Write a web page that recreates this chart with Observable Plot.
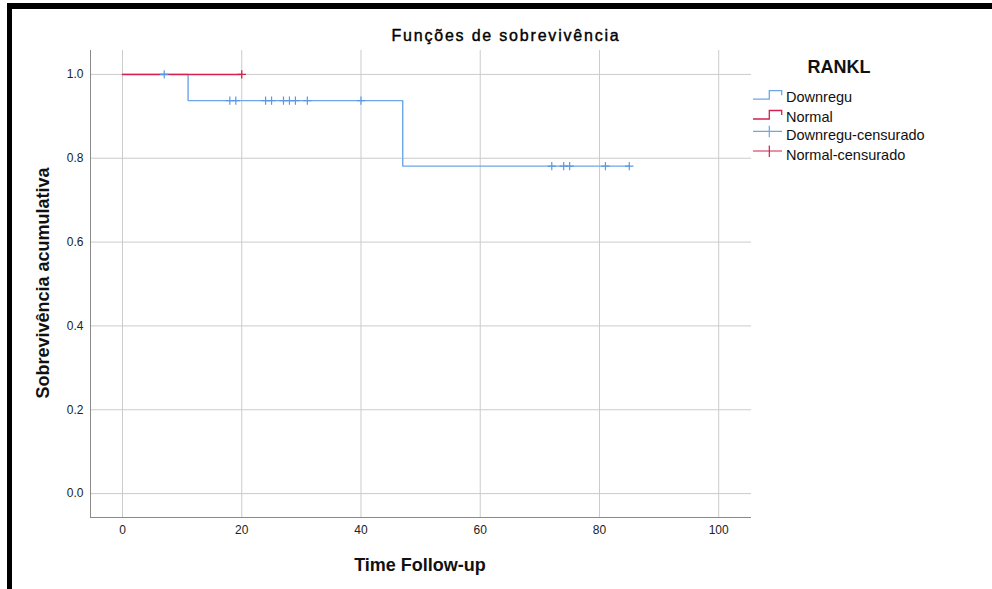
<!DOCTYPE html>
<html>
<head>
<meta charset="utf-8">
<script src="https://cdn.jsdelivr.net/npm/d3@7"></script>
<script src="https://cdn.jsdelivr.net/npm/@observablehq/plot@0.6"></script>
<style>
  html, body { margin: 0; padding: 0; background: #fff; }
  #wrap { position: relative; width: 992px; height: 589px; overflow: hidden; font-family: "Liberation Sans", Arial, sans-serif; color: #111; }
  #chart { position: absolute; left: 0; top: 0; }
  .bl { position: absolute; background: #000; }
  .txt { position: absolute; white-space: nowrap; }
</style>
</head>
<body>
<div id="wrap">
  <div id="chart"></div>
  <div class="bl" style="left:7px; top:3px; width:985px; height:6px;"></div>
  <div class="bl" style="left:7px; top:3px; width:5px; height:586px;"></div>
  <div class="txt" id="title" style="left:506px; top:36px; transform:translate(-50%,-50%); font-size:16px; letter-spacing:1.8px; -webkit-text-stroke:0.4px #000; color:#000;">Funções de sobrevivência</div>
  <div class="txt" id="xtitle" style="left:420px; top:565px; transform:translate(-50%,-50%); font-size:18px; font-weight:bold;">Time Follow-up</div>
  <div class="txt" id="ytitle" style="left:43px; top:283px; transform:translate(-50%,-50%) rotate(-90deg); font-size:18px; font-weight:bold;">Sobrevivência acumulativa</div>
  <div id="legend" style="position:absolute; left:740px; top:50px;"></div>
</div>
<script>
// ---- data ----
const groups = ["Downregu", "Normal"];
const legendLabels = ["Downregu", "Normal", "Downregu-censurado", "Normal-censurado"];
const colors = ["#6ea6e8", "#d42150"];

const downTime = [0, 11, 47, 85];
const downSurv = [1, 0.9375, 0.78125, 0.78125];
const normalTime = [0, 20];
const normalSurv = [1, 1];

const downCensorTime = [7, 18, 19, 24, 25, 27, 28, 29, 31, 40, 72, 74, 75, 81, 85];
const downCensorSurv = [1, 0.9375, 0.9375, 0.9375, 0.9375, 0.9375, 0.9375, 0.9375, 0.9375, 0.9375, 0.78125, 0.78125, 0.78125, 0.78125, 0.78125];
const normalCensorTime = [20];
const normalCensorSurv = [1];

const xTicks = [0, 20, 40, 60, 80, 100];
const yTicks = [0, 0.2, 0.4, 0.6, 0.8, 1.0];
const xDomain = [-5.37, 105.5];
const yDomain = [-0.057, 1.057];

// ---- tables ----
const downLine = downTime.map((t, i) => ({t, s: downSurv[i]}));
const normLine = normalTime.map((t, i) => ({t, s: normalSurv[i]}));
const downCens = downCensorTime.map((t, i) => ({t, s: downCensorSurv[i]}));
const normCens = normalCensorTime.map((t, i) => ({t, s: normalCensorSurv[i]}));

const chart = Plot.plot({
  width: 992,
  height: 589,
  marginLeft: 90,
  marginRight: 241,
  marginTop: 50,
  marginBottom: 72,
  style: { fontFamily: "'Liberation Sans', Arial, sans-serif", fontSize: "12px", color: "#222", background: "transparent" },
  x: { domain: xDomain, ticks: xTicks },
  y: { domain: yDomain, ticks: yTicks },
  marks: [
    Plot.gridX(xTicks, { stroke: "#cbcbcb", strokeOpacity: 1 }),
    Plot.gridY(yTicks, { stroke: "#cbcbcb", strokeOpacity: 1 }),
    Plot.ruleX([xDomain[0]], { stroke: "#8a8a8a" }),
    Plot.ruleY([yDomain[0]], { stroke: "#8a8a8a" }),
    Plot.line(downLine, { x: "t", y: "s", curve: "step-after", stroke: colors[0], strokeWidth: 1.4 }),
    Plot.line(normLine, { x: "t", y: "s", curve: "step-after", stroke: colors[1], strokeWidth: 1.5 }),
    Plot.dot(downCens, { x: "t", y: "s", symbol: "plus", r: 2.8, stroke: "#5b98e6", strokeWidth: 1.2 }),
    Plot.dot(normCens, { x: "t", y: "s", symbol: "plus", r: 2.8, stroke: colors[1], strokeWidth: 1.3 }),
    Plot.axisX(xTicks, { tickSize: 0, tickPadding: 8, label: null, tickFormat: d3.format("d"), fill: "#222" }),
    Plot.axisY(yTicks, { tickSize: 0, tickPadding: 7, label: null, tickFormat: d3.format(".1f"), fill: "#222" })
  ]
});
document.getElementById("chart").appendChild(chart);

// ---- legend ----
const lg = d3.select("#legend").append("svg").attr("width", 252).attr("height", 130)
  .style("font-family", "'Liberation Sans', Arial, sans-serif");
lg.append("text").attr("x", 99).attr("y", 17).attr("text-anchor", "middle").attr("dominant-baseline", "central")
  .style("font-size", "18px").style("font-weight", "bold").attr("fill", "#111").text("RANKL");
const rowsY = [46.7, 66.5, 85.3, 105];
legendLabels.forEach((lab, i) => {
  const c = colors[i % 2];
  const y = rowsY[i];
  const g = lg.append("g");
  if (i < 2) {
    const lo = y + 2.5, hi = y - 6;
    g.append("path").attr("d", `M13,${lo}H29.3V${hi}H41.7V${hi + 4.5}`).attr("fill", "none").attr("stroke", c).attr("stroke-width", 1.3);
  } else {
    g.append("path").attr("d", `M13,${y - 4}H42M29.3,${y - 9.5}V${y + 2}`).attr("fill", "none").attr("stroke", c).attr("stroke-width", 1.2);
  }
  g.append("text").attr("x", 46).attr("y", y).attr("dominant-baseline", "central")
    .style("font-size", "14.5px").attr("fill", "#111").text(lab);
});
</script>
</body>
</html>
